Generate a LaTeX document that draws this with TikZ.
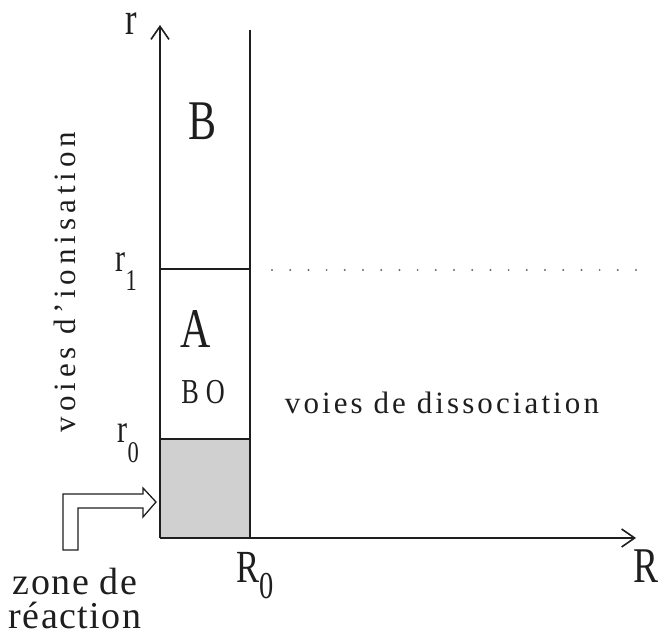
\documentclass[tikz,border=0pt]{standalone}
\usepackage{fontspec}
\setmainfont{Liberation Serif}
\newfontfamily\symfont[FakeStretch=0.75]{Liberation Serif}
\usepackage{xcolor}
\definecolor{ink}{HTML}{1E1E1E}
\definecolor{zonefill}{HTML}{D0D0D0}
\definecolor{dots}{HTML}{6A6A6A}
\usetikzlibrary{arrows.meta}
% lowered index, as the figure sets it
\newcommand{\idx}[4]{#1\raisebox{-#3}{\fontsize{#4}{#4}\selectfont #2}}
\tikzset{
  every picture/.style={line width=1.4pt},
  axis/.style={draw=ink, -{Straight Barb[length=13pt, width=18pt, line width=1.6pt]}},
  wall/.style={draw=ink, line width=1.3pt},
  sym/.style={font=\symfont\fontsize{#1}{#1}\selectfont, text=ink, inner sep=0pt},
  sym/.default=56,
  textlab/.style={font=\fontsize{31}{34}\selectfont\addfontfeature{LetterSpace=#1}, text=ink, inner sep=0pt},
  textlab/.default=10,
  bigtext/.style={font=\fontsize{38}{34}\selectfont\addfontfeature{LetterSpace=4}, text=ink, inner sep=0pt, align=center},
}

\begin{document}
\begin{tikzpicture}[x=1pt, y=-1pt]
  \useasboundingbox (0,0) rectangle (658,636);
  \coordinate (O) at (160,538);
  \coordinate (rtip) at (160,25);
  \coordinate (Rtip) at (636,538);
  \coordinate (wtop) at (250,30);
  \coordinate (wbot) at (250,538);
  \coordinate (r1L) at (160,269);
  \coordinate (r1R) at (250,269);
  \coordinate (dotL) at (272,270);
  \coordinate (dotR) at (640,270);
  \coordinate (r0R) at (250,439);
  % reaction zone
  \fill[zonefill] (O) rectangle (r0R);
  \draw[wall] (160,439) -- (r0R);
  \draw[wall] (wtop) -- (wbot);
  \draw[ink, line width=2.4pt] (r1L) -- (r1R);
  \draw[dots, line width=2.2pt, line cap=round, dash pattern=on 0pt off 18.2pt] (dotL) -- (dotR);
  \draw[axis] (O) -- (rtip);
  \draw[axis] (O) -- (Rtip);
  % hollow arrow into the zone
  \draw[ink, line width=1.3pt, line join=miter] (63,550) -- (63,494) -- (143,494) -- (143,488)
    -- (156,502) -- (143,517) -- (143,508) -- (78,508) -- (78,550) -- cycle;
  \node[sym=46, anchor=base] (rlab) at (131,35) {r};
  \node[sym] (Blab) [anchor=base] at (203,140) {B};
  \node[sym] (Alab) [anchor=base] at (196,347) {A};
  \node[sym=35, anchor=base, font=\symfont\fontsize{35}{35}\selectfont\addfontfeature{LetterSpace=20}] (BOlab) at (203,403) {BO};
  \node[sym=40, anchor=base west] (r1lab) at (115,272) {\idx{r}{1}{18pt}{30}};
  \node[sym=40, anchor=base west] (r0lab) at (117,442) {\idx{r}{0}{20pt}{30}};
  \node[sym=46, anchor=base west] (R0lab) at (236,582) {\idx{R}{0}{16pt}{38}};
  \node[sym=50, anchor=base west] (Rlab) at (633,582) {R};
  \node[textlab, anchor=base] (dis) at (442,413) {voies de dissociation};
  \node[textlab=16, rotate=90, anchor=base] (ion) at (75,282) {voies d'ionisation};
  \node[bigtext, anchor=base] (zone) at (75,628) {zone de\\réaction};
\end{tikzpicture}
\end{document}
